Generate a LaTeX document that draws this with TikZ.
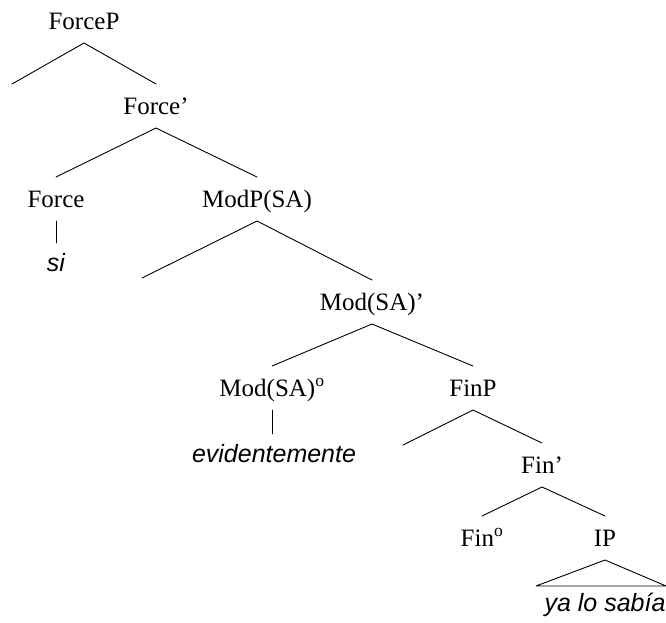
\documentclass[tikz,border=0pt]{standalone}
\usepackage{fontspec}
\setmainfont{Liberation Serif}
\newfontfamily\leafont{Liberation Sans}
\begin{document}
\begin{tikzpicture}[x=1pt,y=-1pt,
  cat/.style={anchor=base, font=\fontsize{25}{30}\selectfont, text height=16pt, text depth=0pt, inner xsep=0pt, inner ysep=14pt, outer sep=0pt},
  leaf/.style={anchor=base, font=\leafont\itshape\fontsize{25}{30}\selectfont, text height=17pt, text depth=0pt, inner xsep=0pt, inner ysep=11pt, outer sep=0pt},
  branch/.style={line width=0.9pt, line cap=round, line join=round}]
\useasboundingbox (0,0) rectangle (666,622);
\node[cat] (forcep) at (84,29) {ForceP};
\node[cat] (forcebar) at (156,114) {Force’};
\node[cat] (force) at (56,207) {Force};
\node[leaf] (si) at (56,271) {si};
\node[cat] (modp) at (257,207) {ModP(SA)};
\node[cat] (modbar) at (372,310) {Mod(SA)’};
\node[cat] (modhead) at (272,396) {Mod(SA)\textsuperscript{o}};
\node[leaf] (evid) at (274,462) {evidentemente};
\node[cat] (finp) at (473,396) {FinP};
\node[cat] (finbar) at (542,473) {Fin’};
\node[cat] (finhead) at (482,546) {Fin\textsuperscript{o}};
\node[cat] (ip) at (605,546) {IP};
\node[leaf] (yalo) at (605,611) {ya lo sabía};
\coordinate (spec1) at (12,84);
\coordinate (spec2) at (142,278);
\coordinate (spec3) at (403,445);
\coordinate (triL) at (536,586);
\coordinate (triR) at (666,586);
\draw[branch] (spec1) -- (forcep.south) -- (forcebar.north);
\draw[branch] (force.north) -- (forcebar.south) -- (modp.north);
\draw[branch] (force.south) -- (si.north);
\draw[branch] (spec2) -- (modp.south) -- (modbar.north);
\draw[branch] (modhead.north) -- (modbar.south) -- (finp.north);
\draw[branch] (modhead.south) -- (modhead.south |- evid.north);
\draw[branch] (spec3) -- (finp.south) -- (finbar.north);
\draw[branch] (finhead.north) -- (finbar.south) -- (ip.north);
\draw[branch] (triL) -- (ip.south) -- (triR) -- cycle;
\end{tikzpicture}
\end{document}
